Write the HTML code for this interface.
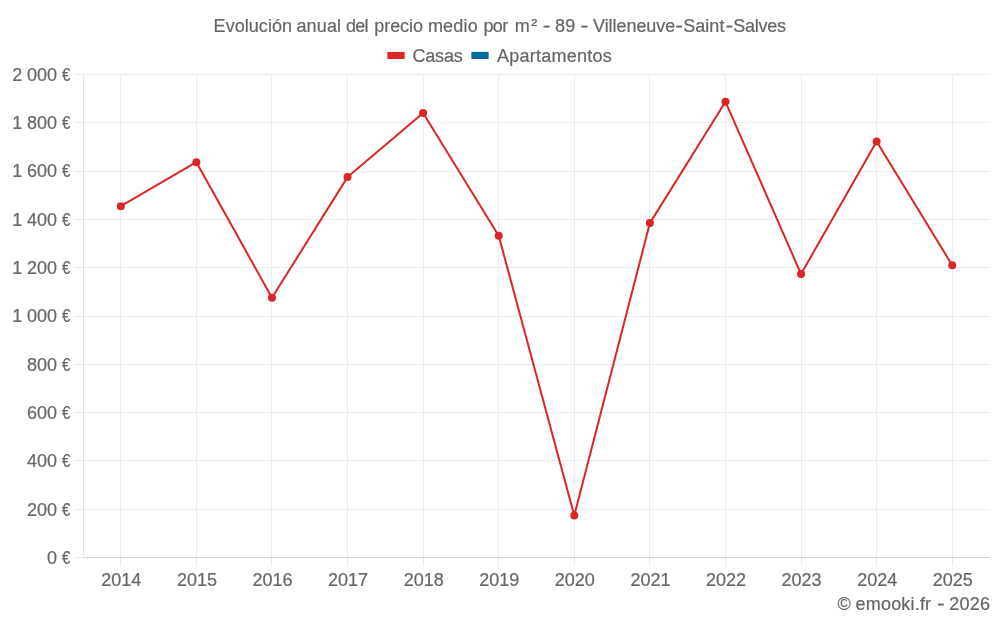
<!DOCTYPE html>
<html lang="es">
<head>
<meta charset="utf-8">
<title>Evolución anual del precio medio por m² - 89 - Villeneuve-Saint-Salves</title>
<style>
html,body{margin:0;padding:0;background:#fff;}
body{width:1000px;height:625px;overflow:hidden;}
svg{display:block;}
text{font-family:"Liberation Sans",Arial,Helvetica,sans-serif;font-size:18px;fill:#666;stroke:#666;stroke-width:0.2px;}
.yl{word-spacing:-0.3px;}
</style>
</head>
<body>
<svg width="1000" height="625" viewBox="0 0 1000 625">
<rect x="0" y="0" width="1000" height="625" fill="#ffffff"/>

<g stroke="#ededed" stroke-width="1" shape-rendering="crispEdges">
<line x1="75" y1="74.5" x2="990" y2="74.5"/>
<line x1="75" y1="122.5" x2="990" y2="122.5"/>
<line x1="75" y1="171.5" x2="990" y2="171.5"/>
<line x1="75" y1="219.5" x2="990" y2="219.5"/>
<line x1="75" y1="267.5" x2="990" y2="267.5"/>
<line x1="75" y1="316.5" x2="990" y2="316.5"/>
<line x1="75" y1="364.5" x2="990" y2="364.5"/>
<line x1="75" y1="412.5" x2="990" y2="412.5"/>
<line x1="75" y1="460.5" x2="990" y2="460.5"/>
<line x1="75" y1="509.5" x2="990" y2="509.5"/>
<line x1="75" y1="557.5" x2="83" y2="557.5"/>
<line x1="120.5" y1="74" x2="120.5" y2="566"/>
<line x1="196.5" y1="74" x2="196.5" y2="566"/>
<line x1="271.5" y1="74" x2="271.5" y2="566"/>
<line x1="347.5" y1="74" x2="347.5" y2="566"/>
<line x1="423.5" y1="74" x2="423.5" y2="566"/>
<line x1="498.5" y1="74" x2="498.5" y2="566"/>
<line x1="574.5" y1="74" x2="574.5" y2="566"/>
<line x1="649.5" y1="74" x2="649.5" y2="566"/>
<line x1="725.5" y1="74" x2="725.5" y2="566"/>
<line x1="801.5" y1="74" x2="801.5" y2="566"/>
<line x1="876.5" y1="74" x2="876.5" y2="566"/>
<line x1="952.5" y1="74" x2="952.5" y2="566"/>
</g>
<line x1="83.5" y1="74" x2="83.5" y2="558" stroke="#e6e6e6" stroke-width="1" shape-rendering="crispEdges"/>
<line x1="83" y1="557.5" x2="990" y2="557.5" stroke="#d5d5d5" stroke-width="1" shape-rendering="crispEdges"/>
<text id="title" y="31.7"><tspan x="213.62" style="letter-spacing:0.047px">Evolución</tspan> <tspan x="296.38" style="letter-spacing:0.156px">anual</tspan> <tspan x="345.98" style="letter-spacing:-0.688px">del</tspan> <tspan x="374.30" style="letter-spacing:-0.065px">precio</tspan> <tspan x="427.88" style="letter-spacing:0.188px">medio</tspan> <tspan x="483.40" style="letter-spacing:-0.600px">por</tspan> <tspan x="514.67">m</tspan><tspan x="531.15" dy="-1.2">²</tspan> <tspan x="542.83" dy="1.2" textLength="7.73" lengthAdjust="spacingAndGlyphs">-</tspan> <tspan x="554.88" style="letter-spacing:0.425px">89</tspan> <tspan x="580.60" textLength="7.99" lengthAdjust="spacingAndGlyphs">-</tspan> <tspan x="593.00" style="letter-spacing:-0.050px">Villeneuve</tspan><tspan x="675.33" textLength="7.73" lengthAdjust="spacingAndGlyphs">-</tspan><tspan x="683.30" style="letter-spacing:0.013px">Saint</tspan><tspan x="725.32" textLength="7.86" lengthAdjust="spacingAndGlyphs">-</tspan><tspan x="733.35" style="letter-spacing:-0.260px">Salves</tspan></text>
<rect x="387.4" y="51.9" width="17.2" height="7.1" fill="#dc2626"/>
<text id="leg1" y="61.7"><tspan x="412.45" style="letter-spacing:-0.188px">Casas</tspan></text>
<rect x="471.4" y="51.9" width="17.2" height="7.1" fill="#0369a1"/>
<text id="leg2" y="61.7"><tspan x="497.12" style="letter-spacing:0.236px">Apartamentos</tspan></text>
<text class="yl" y="80.8" text-anchor="end"><tspan x="57.1">2 000</tspan><tspan x="70.5" textLength="12.3" lengthAdjust="spacingAndGlyphs"> €</tspan></text>
<text class="yl" y="129.1" text-anchor="end"><tspan x="57.1">1 800</tspan><tspan x="70.5" textLength="12.3" lengthAdjust="spacingAndGlyphs"> €</tspan></text>
<text class="yl" y="177.4" text-anchor="end"><tspan x="57.1">1 600</tspan><tspan x="70.5" textLength="12.3" lengthAdjust="spacingAndGlyphs"> €</tspan></text>
<text class="yl" y="225.7" text-anchor="end"><tspan x="57.1">1 400</tspan><tspan x="70.5" textLength="12.3" lengthAdjust="spacingAndGlyphs"> €</tspan></text>
<text class="yl" y="274.0" text-anchor="end"><tspan x="57.1">1 200</tspan><tspan x="70.5" textLength="12.3" lengthAdjust="spacingAndGlyphs"> €</tspan></text>
<text class="yl" y="322.3" text-anchor="end"><tspan x="57.1">1 000</tspan><tspan x="70.5" textLength="12.3" lengthAdjust="spacingAndGlyphs"> €</tspan></text>
<text class="yl" y="370.6" text-anchor="end"><tspan x="57.1">800</tspan><tspan x="70.5" textLength="12.3" lengthAdjust="spacingAndGlyphs"> €</tspan></text>
<text class="yl" y="418.9" text-anchor="end"><tspan x="57.1">600</tspan><tspan x="70.5" textLength="12.3" lengthAdjust="spacingAndGlyphs"> €</tspan></text>
<text class="yl" y="467.2" text-anchor="end"><tspan x="57.1">400</tspan><tspan x="70.5" textLength="12.3" lengthAdjust="spacingAndGlyphs"> €</tspan></text>
<text class="yl" y="515.5" text-anchor="end"><tspan x="57.1">200</tspan><tspan x="70.5" textLength="12.3" lengthAdjust="spacingAndGlyphs"> €</tspan></text>
<text class="yl" y="563.8" text-anchor="end"><tspan x="57.1">0</tspan><tspan x="70.5" textLength="12.3" lengthAdjust="spacingAndGlyphs"> €</tspan></text>
<text class="xl" x="121.34" y="586.0" text-anchor="middle">2014</text>
<text class="xl" x="196.93" y="586.0" text-anchor="middle">2015</text>
<text class="xl" x="272.51" y="586.0" text-anchor="middle">2016</text>
<text class="xl" x="348.09" y="586.0" text-anchor="middle">2017</text>
<text class="xl" x="423.68" y="586.0" text-anchor="middle">2018</text>
<text class="xl" x="499.26" y="586.0" text-anchor="middle">2019</text>
<text class="xl" x="574.84" y="586.0" text-anchor="middle">2020</text>
<text class="xl" x="650.42" y="586.0" text-anchor="middle">2021</text>
<text class="xl" x="726.01" y="586.0" text-anchor="middle">2022</text>
<text class="xl" x="801.59" y="586.0" text-anchor="middle">2023</text>
<text class="xl" x="877.17" y="586.0" text-anchor="middle">2024</text>
<text class="xl" x="952.76" y="586.0" text-anchor="middle">2025</text>
<text id="copy" y="609.9"><tspan x="837.48">©</tspan> <tspan x="855.58" style="letter-spacing:0.184px">emooki.fr</tspan> <tspan x="936.93" textLength="7.73" lengthAdjust="spacingAndGlyphs">-</tspan> <tspan x="949.35" style="letter-spacing:0.183px">2026</tspan></text>
<polyline points="120.79,206.2 196.38,162.2 271.96,297.7 347.54,177.1 423.12,112.9 498.71,235.8 574.29,515.5 649.88,223.1 725.46,101.8 801.04,274.0 876.62,141.5 952.21,265.2" fill="none" stroke="#dc2626" stroke-width="2" stroke-linejoin="round" stroke-linecap="butt"/>
<circle cx="120.79" cy="206.2" r="4" fill="#dc2626"/>
<circle cx="196.38" cy="162.2" r="4" fill="#dc2626"/>
<circle cx="271.96" cy="297.7" r="4" fill="#dc2626"/>
<circle cx="347.54" cy="177.1" r="4" fill="#dc2626"/>
<circle cx="423.12" cy="112.9" r="4" fill="#dc2626"/>
<circle cx="498.71" cy="235.8" r="4" fill="#dc2626"/>
<circle cx="574.29" cy="515.5" r="4" fill="#dc2626"/>
<circle cx="649.88" cy="223.1" r="4" fill="#dc2626"/>
<circle cx="725.46" cy="101.8" r="4" fill="#dc2626"/>
<circle cx="801.04" cy="274.0" r="4" fill="#dc2626"/>
<circle cx="876.62" cy="141.5" r="4" fill="#dc2626"/>
<circle cx="952.21" cy="265.2" r="4" fill="#dc2626"/>
</svg>
</body>
</html>
